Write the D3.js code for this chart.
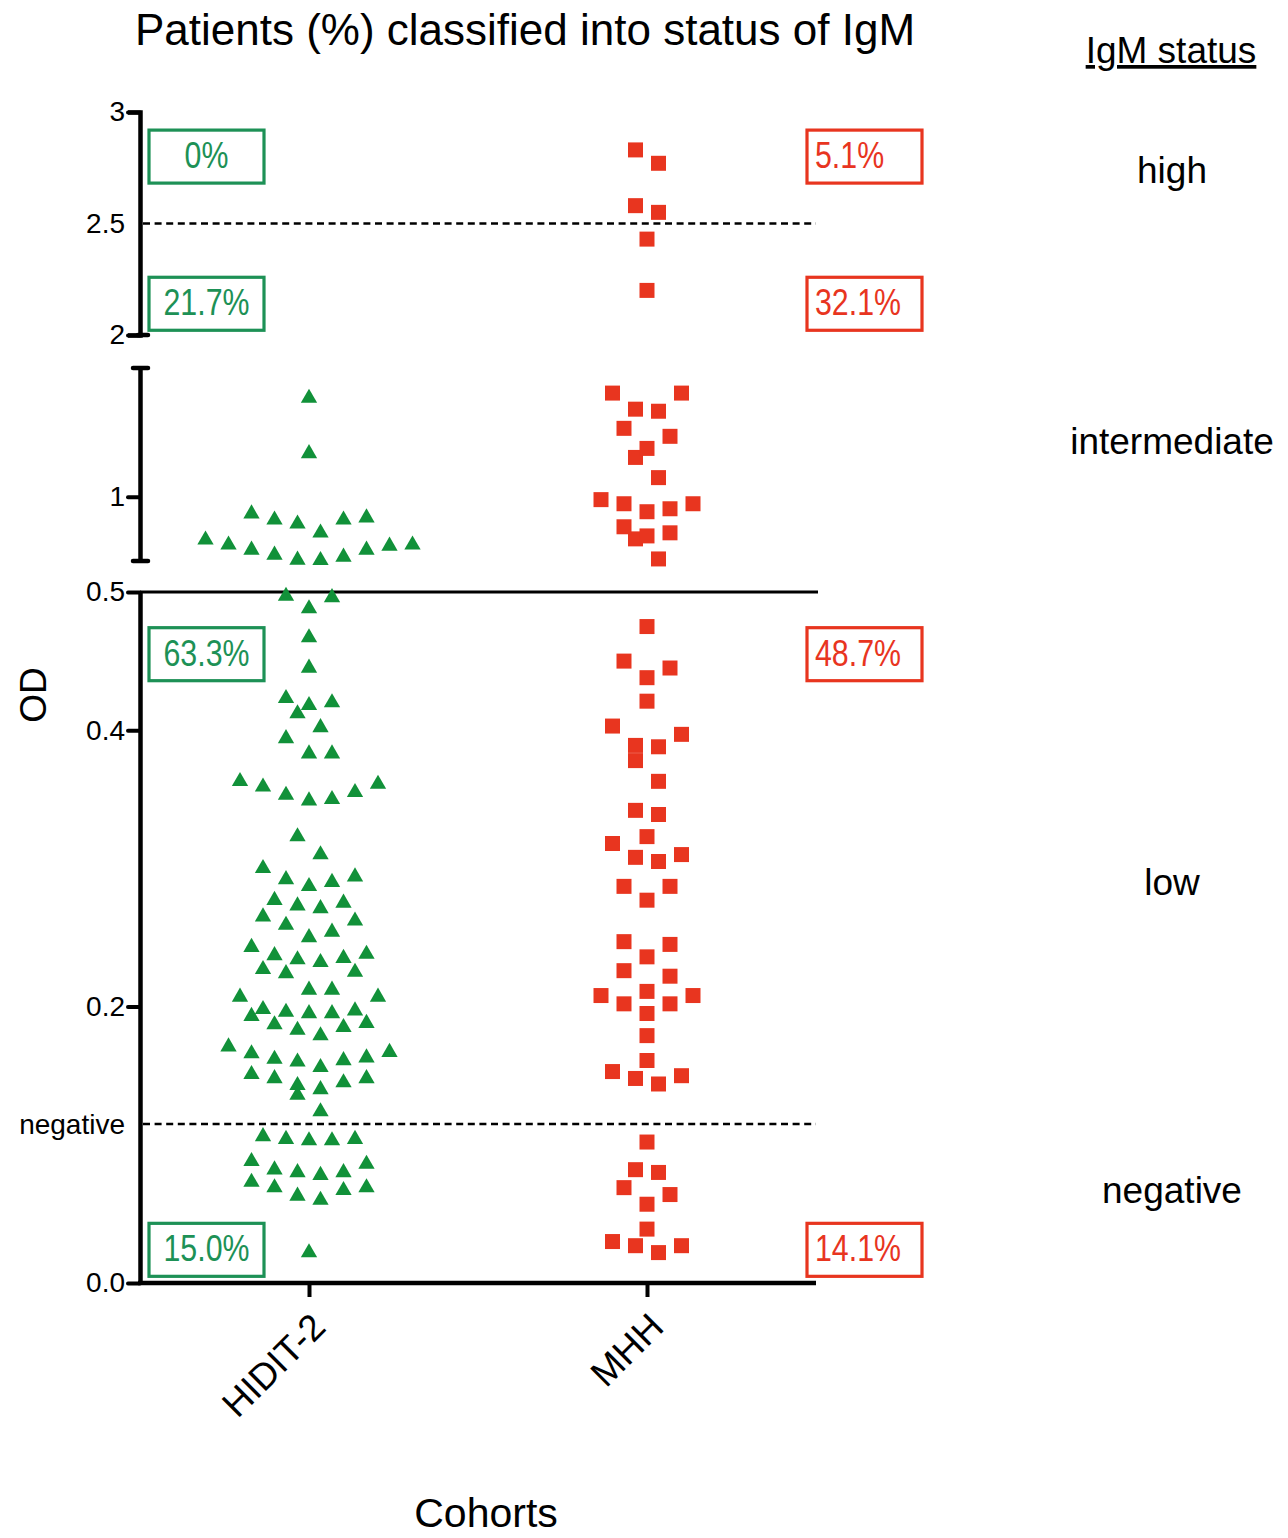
<!DOCTYPE html>
<html>
<head>
<meta charset="utf-8">
<script src="https://cdn.jsdelivr.net/npm/d3@7"></script>
<style>
  body { margin: 0; background: #fff; }
  svg { display: block; font-family: "Liberation Sans", Arial, sans-serif; }
</style>
</head>
<body>
<svg id="chart" width="1288" height="1538"></svg>
<script>
// cohorts and OD values
var cohorts = ['HIDIT-2', 'MHH']

var hiditOD = [
  // intermediate
  1.766, 1.336, 0.836, 0.820, 0.719, 0.789, 0.820, 0.867,
  0.664, 0.625, 0.586, 0.547, 0.508, 0.505, 0.531, 0.586, 0.617, 0.625,
  // low
  0.497, 0.488, 0.496, 0.467, 0.445, 0.423, 0.418, 0.420, 0.412, 0.402, 0.394, 0.383, 0.383,
  0.363, 0.359, 0.353, 0.349, 0.350, 0.355, 0.361, 0.323, 0.310,
  0.300, 0.292, 0.287, 0.290, 0.294, 0.277, 0.273, 0.265, 0.262, 0.271, 0.275,
  0.254, 0.243, 0.250, 0.259, 0.238, 0.235, 0.232, 0.225, 0.224, 0.227, 0.234, 0.237,
  0.212, 0.207, 0.207, 0.212, 0.195, 0.193, 0.198, 0.196, 0.197,
  0.187, 0.183, 0.179, 0.185, 0.188, 0.195,
  0.171, 0.166, 0.162, 0.160, 0.161, 0.163, 0.167,
  0.156, 0.148, 0.145, 0.140, 0.143, 0.148, 0.151, 0.136, 0.124,
  // negative
  0.104, 0.103, 0.103, 0.104, 0.106,
  0.086, 0.080, 0.078, 0.080, 0.082, 0.088,
  0.073, 0.069, 0.063, 0.060, 0.067, 0.069, 0.022
]

var mhhOD = [
  // high
  2.83, 2.77, 2.58, 2.55, 2.43, 2.20,
  // intermediate
  1.805, 1.805, 1.664, 1.680, 1.531, 1.469, 1.375, 1.305, 1.148,
  0.945, 0.906, 0.883, 0.945, 0.977, 0.766, 0.672, 0.695, 0.719, 0.516,
  // low
  0.475, 0.450, 0.445, 0.438, 0.421, 0.403, 0.397, 0.389, 0.388, 0.378, 0.363,
  0.342, 0.339, 0.323, 0.318, 0.308, 0.305, 0.310, 0.287, 0.287, 0.277,
  0.247, 0.245, 0.236, 0.222, 0.226, 0.211, 0.208, 0.202, 0.195, 0.202, 0.208,
  0.179, 0.161, 0.150, 0.144, 0.148, 0.153,
  // negative
  0.102, 0.080, 0.082, 0.069, 0.064, 0.057, 0.039, 0.027, 0.022, 0.027, 0.030
]

var statusLabels = ['high', 'intermediate', 'low', 'negative']
var hiditPct = ['0%', '21.7%', '63.3%', '15.0%']
var mhhPct = ['5.1%', '32.1%', '48.7%', '14.1%']
var pctAt = [2.80, 2.14, 0.455, 0.024]
var statusAt = [2.74, 1.43, 0.29, 0.067]

var negativeCutoff = 0.115
var highCutoff = 2.5

// broken y axis: three linear pieces
var segDomains = [[2, 3], [0.5, 2], [0, 0.5]]
var segTicks = [[2, 2.5, 3], [1], [0, negativeCutoff, 0.2, 0.4, 0.5]]

var green = '#119139'
var greenBox = '#1d9156'
var red = '#e8351f'

var svg = d3.select('#chart')

var x = d3.scalePoint()
  .domain(cohorts)
  .range([140, 816])
  .padding(0.5)

var segScales = [
  d3.scaleLinear().domain(segDomains[0]).range([335, 112]),
  d3.scaleLinear().domain(segDomains[1]).range([561, 368]),
  d3.scaleLinear().domain(segDomains[2]).range([1283, 592])
]

function y(v) {
  if (v >= 2) return segScales[0](v)
  if (v > 0.5) return segScales[1](v)
  return segScales[2](v)
}

// title
svg.append('text')
  .attr('x', 525).attr('y', 45)
  .attr('text-anchor', 'middle')
  .attr('font-size', 44)
  .text('Patients (%) classified into status of IgM')

// axes
segScales.forEach(function(s, i) {
  var ax = d3.axisLeft(s)
    .tickValues(segTicks[i])
    .tickSize(12)
    .tickSizeOuter(i === 0 ? 12 : 0)
    .tickPadding(3)
    .tickFormat(function(d) {
      if (d === negativeCutoff) return 'negative'
      if (d === 0) return '0.0'
      return d3.format('')(d)
    })
  var g = svg.append('g')
    .attr('transform', 'translate(140,0)')
    .call(ax)
  g.select('.domain').attr('stroke-width', 4.5).attr('stroke', '#000')
  g.selectAll('.tick line').attr('stroke-width', 4).attr('stroke-linecap', 'round')
    .attr('opacity', function(d) { return (d === highCutoff || d === negativeCutoff) ? 0 : 1 })
  g.selectAll('.tick text')
    .attr('font-size', 28)
    .attr('font-family', '"Liberation Sans", Arial, sans-serif')
    .attr('fill', '#000')
})

// caps on the broken segments
var caps = [segScales[0](2), segScales[1](2), segScales[1](0.5)]
svg.selectAll('.cap')
  .data(caps)
  .enter().append('line')
  .attr('class', 'cap')
  .attr('x1', function(d, i) { return i === 0 ? 138 : 133 })
  .attr('x2', 148)
  .attr('y1', function(d) { return d })
  .attr('y2', function(d) { return d })
  .attr('stroke', '#000')
  .attr('stroke-width', 4.5)
  .attr('stroke-linecap', 'round')

// x axis
var xg = svg.append('g')
  .attr('transform', 'translate(0,' + segScales[2](0) + ')')
  .call(d3.axisBottom(x).tickSize(14).tickSizeOuter(0))
xg.select('.domain').attr('stroke-width', 4.5).attr('d', 'M138,0H816')
xg.selectAll('.tick line').attr('stroke-width', 4)
xg.selectAll('.tick text')
  .attr('font-size', 37)
  .attr('font-family', '"Liberation Sans", Arial, sans-serif')
  .attr('fill', '#000')
  .attr('text-anchor', 'end')
  .attr('x', 0).attr('y', 0).attr('dy', '0.35em')
  .attr('transform', 'translate(9,37) rotate(-45)')

// reference lines
svg.append('line')
  .attr('x1', 140).attr('x2', 818)
  .attr('y1', segScales[2](0.5)).attr('y2', segScales[2](0.5))
  .attr('stroke', '#000').attr('stroke-width', 3)

;[highCutoff, negativeCutoff].forEach(function(c) {
  svg.append('line')
    .attr('x1', 143).attr('x2', 816)
    .attr('y1', y(c)).attr('y2', y(c))
    .attr('stroke', '#000').attr('stroke-width', 2.6)
    .attr('stroke-dasharray', '7,4.6')
})

// swarm: group nearby values into rows, centre each row, lowest in the middle
function swarm(values, cx) {
  var spacing = 23
  var pts = values.map(function(v) { return { v: v, y: y(v) } })
    .sort(function(a, b) { return b.y - a.y })
  var rows = []
  var row = null
  pts.forEach(function(p) {
    if (row && row[0].y - p.y <= 21) row.push(p)
    else { row = [p]; rows.push(row) }
  })
  rows.forEach(function(r) {
    var n = r.length
    var slots = d3.range(n).map(function(i) { return i - (n - 1) / 2 })
      .sort(function(a, b) { return Math.abs(a) - Math.abs(b) || b - a })
    r.forEach(function(p, i) { p.x = cx + slots[i] * spacing })
  })
  return pts
}

var tri = d3.symbol().type(d3.symbolTriangle).size(115)
svg.append('g').selectAll('path')
  .data(swarm(hiditOD, x('HIDIT-2')))
  .enter().append('path')
  .attr('d', tri)
  .attr('transform', function(d) { return 'translate(' + d.x + ',' + d.y + ')' })
  .attr('fill', green)

var sq = d3.symbol().type(d3.symbolSquare).size(225)
svg.append('g').selectAll('path')
  .data(swarm(mhhOD, x('MHH')))
  .enter().append('path')
  .attr('d', sq)
  .attr('transform', function(d) { return 'translate(' + d.x + ',' + d.y + ')' })
  .attr('fill', red)

// percentage boxes
function boxes(labels, left, color, centred) {
  var g = svg.append('g').selectAll('g')
    .data(labels)
    .enter().append('g')
    .attr('transform', function(d, i) { return 'translate(' + left + ',' + (y(pctAt[i]) - 26.5) + ')' })
  g.append('rect')
    .attr('width', 115).attr('height', 53)
    .attr('fill', 'none')
    .attr('stroke', color).attr('stroke-width', 3.2)
  g.append('text')
    .attr('transform', 'translate(' + (centred ? 57.5 : 8) + ',38) scale(0.82,1)')
    .attr('text-anchor', centred ? 'middle' : 'start')
    .attr('font-size', 37)
    .attr('fill', color)
    .text(function(d) { return d })
}
boxes(hiditPct, 149, greenBox, true)
boxes(mhhPct, 807, red, false)

// status legend on the right
svg.append('text')
  .attr('x', 1171).attr('y', 63)
  .attr('text-anchor', 'middle')
  .attr('font-size', 37)
  .attr('text-decoration', 'underline')
  .text('IgM status')

svg.selectAll('.status')
  .data(statusLabels)
  .enter().append('text')
  .attr('class', 'status')
  .attr('x', 1172)
  .attr('y', function(d, i) { return y(statusAt[i]) + 13 })
  .attr('text-anchor', 'middle')
  .attr('font-size', 37)
  .text(function(d) { return d })

// axis titles
svg.append('text')
  .attr('transform', 'translate(46,695) rotate(-90)')
  .attr('text-anchor', 'middle')
  .attr('font-size', 37)
  .text('OD')

svg.append('text')
  .attr('x', 486).attr('y', 1527)
  .attr('text-anchor', 'middle')
  .attr('font-size', 41)
  .text('Cohorts')
</script>
</body>
</html>
